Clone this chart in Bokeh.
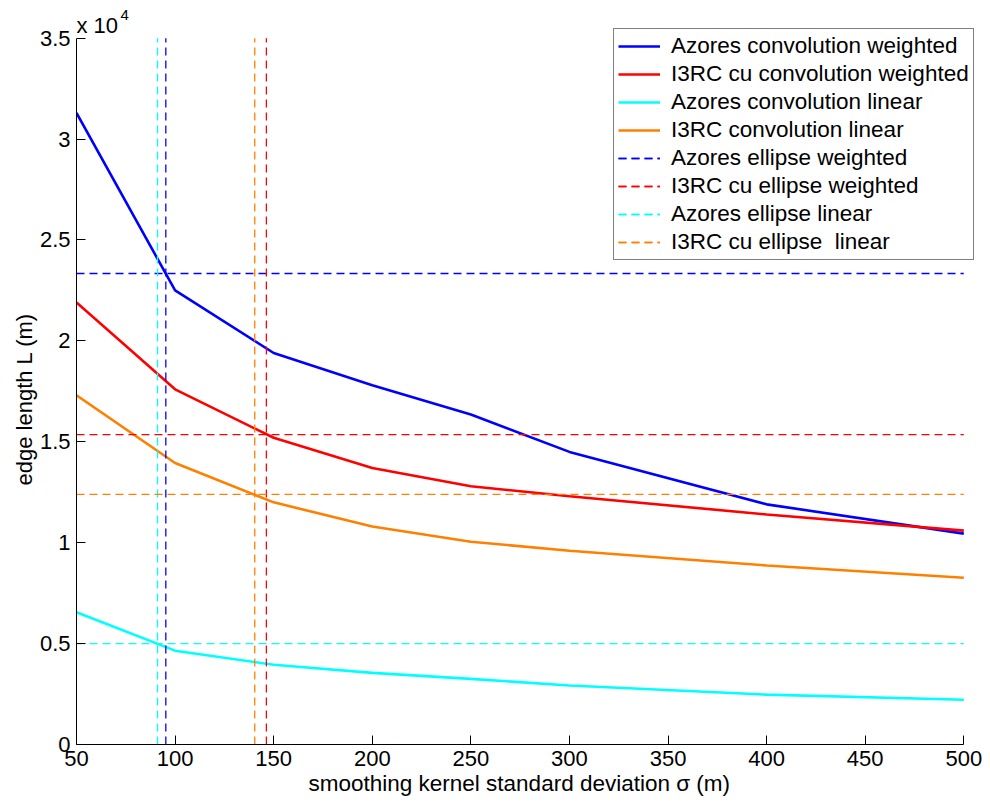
from bokeh.plotting import figure
from bokeh.models import (Range1d, FixedTicker, CustomJSTickFormatter, Legend, LegendItem, Label, Title)
from bokeh.embed import file_html
from bokeh.resources import INLINE

sigma = [50, 100, 150, 200, 250, 300, 400, 500]
azores_conv_weighted = [31300, 22500, 19400, 17800, 16350, 14500, 11900, 10450]
i3rc_conv_weighted = [21900, 17600, 15200, 13700, 12800, 12300, 11400, 10600]
azores_conv_linear = [6550, 4650, 3950, 3550, 3250, 2920, 2470, 2220]
i3rc_conv_linear = [17300, 13950, 12000, 10800, 10050, 9600, 8870, 8260]

# ellipse estimates: (sigma, edge length)
ellipse_names = ["Azores ellipse weighted", "I3RC cu ellipse weighted",
                 "Azores ellipse linear", "I3RC cu ellipse  linear"]
ellipse_sigma = [95.3, 146.3, 91.1, 140.4]
ellipse_length = [23340, 15360, 5000, 12390]

conv_names = ["Azores convolution weighted", "I3RC cu convolution weighted",
              "Azores convolution linear", "I3RC convolution linear"]
colors = ["#0000FF", "#FF0000", "#00FFFF", "#FF8000"]

x_lim = (50, 500)
y_lim = (0, 35000)
x_ticks = [50, 100, 150, 200, 250, 300, 350, 400, 450, 500]
y_ticks = [0, 5000, 10000, 15000, 20000, 25000, 30000, 35000]
x_label = "smoothing kernel standard deviation σ (m)"
y_label = "edge length L (m)"

FONT = "Liberation Sans"

# frame extends beyond the axes limits so legend / exponent label are not clipped
p = figure(width=990, height=803, output_backend="svg", toolbar_location=None,
           x_range=Range1d(50, 511.0), y_range=Range1d(0, 36868),
           min_border_left=76, min_border_right=5, min_border_top=0, min_border_bottom=59)
p.outline_line_color = None
p.grid.visible = False
p.background_fill_color = "white"
p.border_fill_color = "white"

items = []
series = [azores_conv_weighted, i3rc_conv_weighted, azores_conv_linear, i3rc_conv_linear]
for name, ys, c in zip(conv_names, series, colors):
    r = p.line(sigma, ys, line_color=c, line_width=2.6)
    items.append(LegendItem(label=name, renderers=[r]))

for name, sx, ly, c in zip(ellipse_names, ellipse_sigma, ellipse_length, colors):
    rh = p.line(list(x_lim), [ly, ly], line_color=c, line_width=1.3, line_dash="8 5")
    rv = p.line([sx, sx], list(y_lim), line_color=c, line_width=1.3, line_dash="8 5")
    items.append(LegendItem(label=name, renderers=[rh, rv]))

legend = Legend(items=items, location=(537, 484), margin=0, padding=4, spacing=2,
                glyph_width=42, glyph_height=26, label_height=26, label_standoff=11,
                label_text_font=FONT, label_text_font_size="22.5px", label_text_color="black",
                border_line_color="black", border_line_width=1, background_fill_alpha=1.0)
p.add_layout(legend, "center")

for ax in (p.xaxis[0], p.yaxis[0]):
    ax.major_tick_in = 9
    ax.major_tick_out = 0
    ax.minor_tick_in = 0
    ax.minor_tick_out = 0
    ax.axis_line_color = "black"
    ax.major_tick_line_color = "black"
    ax.major_label_text_font = FONT
    ax.major_label_text_font_size = "22px"
    ax.major_label_text_color = "black"
    ax.major_label_standoff = 6

p.xaxis[0].bounds = x_lim
p.yaxis[0].bounds = y_lim
p.xaxis[0].ticker = FixedTicker(ticks=x_ticks)
p.yaxis[0].ticker = FixedTicker(ticks=y_ticks)
p.yaxis[0].formatter = CustomJSTickFormatter(code="return (tick/10000).toString();")

# axis titles, centred on the axes' own extents (not the wider frame)
p.add_layout(Title(text=x_label, align="left", offset=232, standoff=0,
                   text_font=FONT, text_font_size="22.5px", text_font_style="normal",
                   text_color="black"), "below")
p.add_layout(Title(text=y_label, align="left", offset=259, standoff=0,
                   text_font=FONT, text_font_size="22px", text_font_style="normal",
                   text_color="black"), "left")

p.add_layout(Label(x=0, y=719, x_units="screen", y_units="screen", text="x 10",
                   text_font=FONT, text_font_size="22px", text_color="black",
                   text_baseline="alphabetic"))
p.add_layout(Label(x=44, y=730, x_units="screen", y_units="screen", text="4",
                   text_font=FONT, text_font_size="15px", text_color="black",
                   text_baseline="alphabetic"))

open("out.html", "w").write(file_html(p, INLINE))
